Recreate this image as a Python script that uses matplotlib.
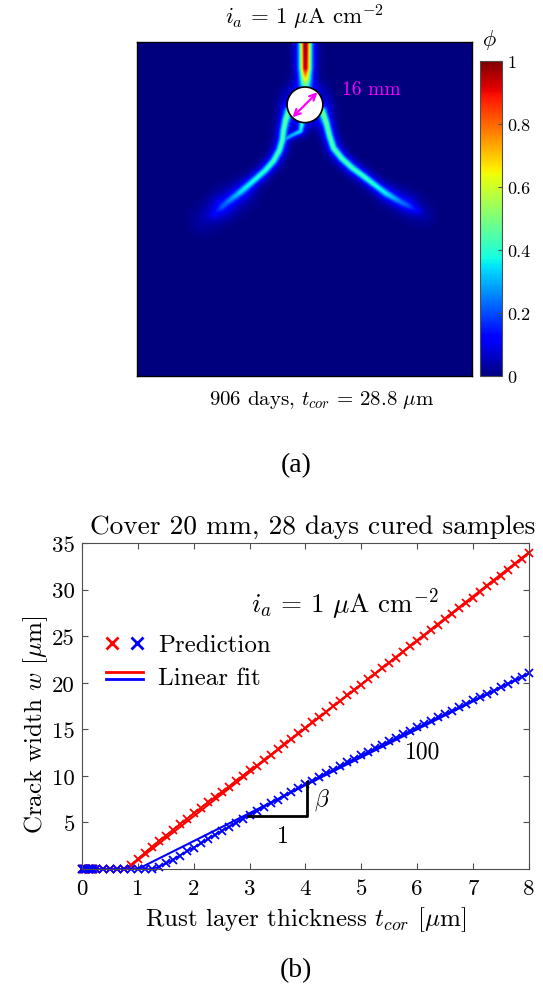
import numpy as np
import matplotlib
matplotlib.use("Agg")
import matplotlib.pyplot as plt
from matplotlib.patches import Circle
from matplotlib.lines import Line2D
from matplotlib.legend_handler import HandlerBase, HandlerTuple

plt.rcParams['font.family'] = 'cmr10'
plt.rcParams['mathtext.fontset'] = 'cm'
plt.rcParams['axes.unicode_minus'] = False
plt.rcParams['axes.formatter.use_mathtext'] = True

# ---------------- panel (b) data ----------------
t_cor = [0.0, 0.02, 0.04, 0.06, 0.08, 0.10, 0.12, 0.14, 0.16, 0.18, 0.20,
         0.25, 0.375, 0.5, 0.625, 0.75,
         0.875, 1.0, 1.125, 1.25, 1.375, 1.5, 1.625, 1.75,
         1.875, 2.0, 2.125, 2.25, 2.375, 2.5, 2.625, 2.75,
         2.875, 3.0, 3.125, 3.25, 3.375, 3.5, 3.625, 3.75,
         3.875, 4.0, 4.125, 4.25, 4.375, 4.5, 4.625, 4.75,
         4.875, 5.0, 5.125, 5.25, 5.375, 5.5, 5.625, 5.75,
         5.875, 6.0, 6.125, 6.25, 6.375, 6.5, 6.625, 6.75,
         6.875, 7.0, 7.125, 7.25, 7.375, 7.5, 7.625, 7.75,
         7.875, 8.0]

w_red = [0, 0, 0, 0, 0, 0, 0, 0, 0, 0, 0,
         0, 0, 0, 0, 0,
         0.4, 1.1, 1.75, 2.4, 3.0, 3.6, 4.2, 4.8,
         5.4, 6.0, 6.55, 7.15, 7.7, 8.3, 8.85, 9.45,
         10.0, 10.6, 11.1, 11.7, 12.25, 12.85, 13.4, 14.0,
         14.6, 15.15, 15.75, 16.3, 16.9, 17.5, 18.05, 18.65,
         19.2, 19.8, 20.4, 20.95, 21.55, 22.15, 22.7, 23.3,
         23.9, 24.45, 25.05, 25.65, 26.2, 26.8, 27.4, 28.0,
         28.55, 29.15, 29.75, 30.35, 30.95, 31.5, 32.1, 32.7,
         33.3, 33.9]

w_blue = [0, 0, 0, 0, 0, 0, 0, 0, 0, 0, 0,
          0, 0, 0, 0, 0,
          0, 0, 0, 0, 0.25, 0.6, 1.0, 1.45,
          1.9, 2.3, 2.75, 3.2, 3.65, 4.1, 4.5, 4.95,
          5.4, 5.8, 6.2, 6.65, 7.05, 7.45, 7.85, 8.3,
          8.7, 9.1, 9.5, 9.9, 10.3, 10.65, 11.05, 11.45,
          11.85, 12.2, 12.6, 12.95, 13.35, 13.7, 14.1, 14.45,
          14.85, 15.2, 15.55, 15.9, 16.3, 16.65, 17.0, 17.35,
          17.75, 18.1, 18.45, 18.8, 19.15, 19.55, 19.9, 20.25,
          20.6, 21.0]

fit_red_t = [0.8, 8.0]
fit_red_w = [0.0, 34.0]
fit_blue_t = [1.0, 8.0]
fit_blue_w = [0.0, 21.0]

slope_tri_t = [2.97, 4.02, 4.02]
slope_tri_w = [5.73, 5.73, 9.33]

# ---------------- panel (a) data: crack paths in mm (x, depth) ----------------
bar_centre = (0.2, 28.2)
bar_radius = 8.0
crack_top_x = [0.2, 0.2, 0.2, 0.2]
crack_top_y = [0.0, 12.0, 17.0, 20.5]
crack_top_a = [1.0, 0.95, 0.6, 0.35]
crack_right_x = [7.8, 9.6, 11.0, 12.8, 16.4, 21.3, 26.2, 30.7, 36.1, 42.8, 51.7]
crack_right_y = [31.4, 36.7, 42.5, 47.9, 52.4, 56.9, 60.5, 64.0, 68.1, 72.1, 76.6]
crack_right_a = [0.42, 0.46, 0.46, 0.45, 0.44, 0.43, 0.42, 0.40, 0.32, 0.18, 0.04]
crack_left_x = [-7.4, -8.7, -9.6, -10.1, -11.4, -14.1, -17.7, -22.6, -28.9, -35.2, -41.0]
crack_left_y = [31.4, 35.4, 39.9, 44.3, 48.8, 53.7, 57.8, 62.2, 67.6, 72.5, 77.9]
crack_left_a = [0.40, 0.44, 0.45, 0.45, 0.44, 0.43, 0.41, 0.38, 0.28, 0.14, 0.04]
crack_loop_x = [-1.1, -2.0, -6.5, -9.6]
crack_loop_y = [35.8, 40.3, 42.5, 44.3]
crack_loop_a = [0.35, 0.33, 0.30, 0.28]
halo_left_x = [-28.0, -37.0, -45.0]
halo_left_y = [68.0, 74.0, 80.0]
halo_left_a = [0.06, 0.10, 0.04]
halo_right_x = [38.0, 46.0, 53.0]
halo_right_y = [69.0, 73.0, 78.0]
halo_right_a = [0.05, 0.08, 0.03]


def crack_field(X, Y, xs, ys, amps, core, halo):
    out = np.zeros_like(X)
    for k in range(len(xs) - 1):
        x0, y0, x1, y1 = xs[k], ys[k], xs[k + 1], ys[k + 1]
        dx, dy = x1 - x0, y1 - y0
        s = ((X - x0) * dx + (Y - y0) * dy) / (dx * dx + dy * dy)
        s = np.clip(s, 0, 1)
        d = np.hypot(X - (x0 + s * dx), Y - (y0 + s * dy))
        a = amps[k] + s * (amps[k + 1] - amps[k])
        prof = 0.68 * np.exp(-(d / core) ** 2) + 0.32 * np.exp(-(d / halo) ** 2)
        out = np.maximum(out, a * prof)
    return out


gx = np.linspace(-75, 75, 451)
gy = np.linspace(0, 150, 451)
X, Y = np.meshgrid(gx, gy)
phi = crack_field(X, Y, crack_top_x, crack_top_y, crack_top_a, 2.2, 4.0)
phi = np.maximum(phi, crack_field(X, Y, crack_right_x, crack_right_y, crack_right_a, 1.5, 3.5))
phi = np.maximum(phi, crack_field(X, Y, crack_left_x, crack_left_y, crack_left_a, 1.5, 3.5))
phi = np.maximum(phi, crack_field(X, Y, crack_loop_x, crack_loop_y, crack_loop_a, 1.1, 2.6))
phi = phi + crack_field(X, Y, halo_left_x, halo_left_y, halo_left_a, 6.0, 6.0)
phi = phi + crack_field(X, Y, halo_right_x, halo_right_y, halo_right_a, 5.0, 5.0)
r = np.hypot(X - bar_centre[0], Y - bar_centre[1])
phi = phi + 0.07 * np.exp(-((r - bar_radius) / 4.0) ** 2)
phi = np.clip(phi, 0, 1)

fig = plt.figure(figsize=(5.43, 9.87), dpi=100)

# ---------------- panel (a) ----------------
ax1 = fig.add_axes([0.2523, 0.618, 0.617, 0.3384])
im = ax1.imshow(phi, cmap='jet', vmin=0, vmax=1, extent=(-75, 75, 150, 0),
                interpolation='bilinear', aspect='auto')
ax1.add_patch(Circle(bar_centre, bar_radius, facecolor='white', edgecolor='black',
                     lw=1.2, zorder=3))
ax1.annotate('', xy=(5.8, 22.6), xytext=(-5.4, 33.8),
             arrowprops=dict(arrowstyle='<->', color='magenta', lw=1.6,
                             shrinkA=0, shrinkB=0, mutation_scale=11), zorder=4)
ax1.text(30.0, 21, '16 mm', color='magenta', fontsize=14, ha='center', va='center')
ax1.set_xticks([])
ax1.set_yticks([])
for sp in ax1.spines.values():
    sp.set_linewidth(1.0)

cax = fig.add_axes([0.884, 0.618, 0.0405, 0.319])
cb = fig.colorbar(im, cax=cax, ticks=[0, 0.2, 0.4, 0.6, 0.8, 1])
cb.ax.set_yticklabels(['0', '0.2', '0.4', '0.6', '0.8', '1'])
cb.ax.tick_params(labelsize=13, direction='in', length=3, color='0.3', pad=4)
cb.outline.set_edgecolor('0.3')
fig.text(489 / 543, 1 - 40 / 987, r'$\phi$', fontsize=16, ha='center', va='center')

fig.text(305 / 543, 1 - 17 / 987, r'$i_a\,=\,1\ \mu$A cm$^{-2}$', fontsize=16.5,
         ha='center', va='center')
fig.text(322 / 543, 1 - 400 / 987, r'906 days, $t_{cor}\,=\,28.8\ \mu$m', fontsize=15,
         ha='center', va='center')
fig.text(296 / 543, 1 - 466 / 987, '(a)', fontsize=20, ha='center', va='center',
         family='Liberation Serif')

# ---------------- panel (b) ----------------
ax2 = fig.add_axes([0.151, 0.1185, 0.823, 0.3303])
ax2.plot(fit_red_t, fit_red_w, color='red', lw=1.5)
ax2.plot(fit_blue_t, fit_blue_w, color='blue', lw=1.5)
ax2.plot(t_cor, w_red, color='red', lw=1.2, marker='x', ms=6, mew=1.3, clip_on=False)
ax2.plot(t_cor, w_blue, color='blue', lw=1.2, marker='x', ms=6, mew=1.3, clip_on=False)
ax2.plot(slope_tri_t, slope_tri_w, color='black', lw=2)
ax2.text(3.6, 3.6, '1', fontsize=17, ha='center', va='center')
ax2.text(4.3, 7.5, r'$\beta$', fontsize=17, ha='center', va='center')
ax2.text(6.1, 12.6, '100', fontsize=17, ha='center', va='center')
ax2.text(4.7, 28.6, r'$i_a\,=\,1\ \mu$A cm$^{-2}$', fontsize=19.5, ha='center', va='center')

ax2.set_xlim(0, 8)
ax2.set_ylim(0, 35)
ax2.set_xticks(range(0, 9))
ax2.set_xticklabels([str(v) for v in range(0, 9)])
ax2.set_yticks([5, 10, 15, 20, 25, 30, 35])
ax2.set_yticklabels(['5', '10', '15', '20', '25', '30', '35'])
ax2.tick_params(direction='in', length=4, labelsize=16.5, top=True, right=True,
                color='0.3', width=0.8)
ax2.tick_params(axis='x', pad=7)
ax2.tick_params(axis='y', pad=5)
for sp in ax2.spines.values():
    sp.set_color('0.3')
    sp.set_linewidth(0.8)
ax2.set_title('Cover 20 mm, 28 days cured samples', fontsize=19.7, pad=7, x=0.515)
ax2.set_xlabel(r'Rust layer thickness $t_{cor}$ [$\mu$m]', fontsize=18)
ax2.set_ylabel(r'Crack width $w$ [$\mu$m]', fontsize=18)
ax2.xaxis.set_label_coords(0.5, -0.108)
ax2.yaxis.set_label_coords(-0.072, 0.445)


class StackedLines(HandlerBase):
    def create_artists(self, legend, orig_handle, xdescent, ydescent, width,
                       height, fontsize, trans):
        arts = []
        for k, ln in enumerate(orig_handle):
            yy = height / 2 - ydescent + (2.4 if k == 0 else -2.4)
            arts.append(Line2D([-xdescent, width - xdescent], [yy, yy],
                               color=ln.get_color(), lw=2.0, transform=trans))
        return arts


mk_red = Line2D([], [], ls='none', marker='x', color='red', ms=8, mew=2)
mk_blue = Line2D([], [], ls='none', marker='x', color='blue', ms=8, mew=2)
ln_red = Line2D([], [], color='red', lw=2)
ln_blue = Line2D([], [], color='blue', lw=2)
fit_pair = (ln_red, ln_blue)
ax2.legend([(mk_red, mk_blue), fit_pair], ['Prediction', 'Linear fit'],
           handler_map={tuple: HandlerTuple(ndivide=None, pad=0.5),
                        fit_pair: StackedLines()},
           loc='upper left', bbox_to_anchor=(0.003, 0.79), frameon=False,
           fontsize=18, handlelength=1.5, handletextpad=0.6, labelspacing=0.4)

fig.text(296 / 543, 1 - 971 / 987, '(b)', fontsize=20, ha='center', va='center',
         family='Liberation Serif')

fig.savefig('out.png', dpi=100)
